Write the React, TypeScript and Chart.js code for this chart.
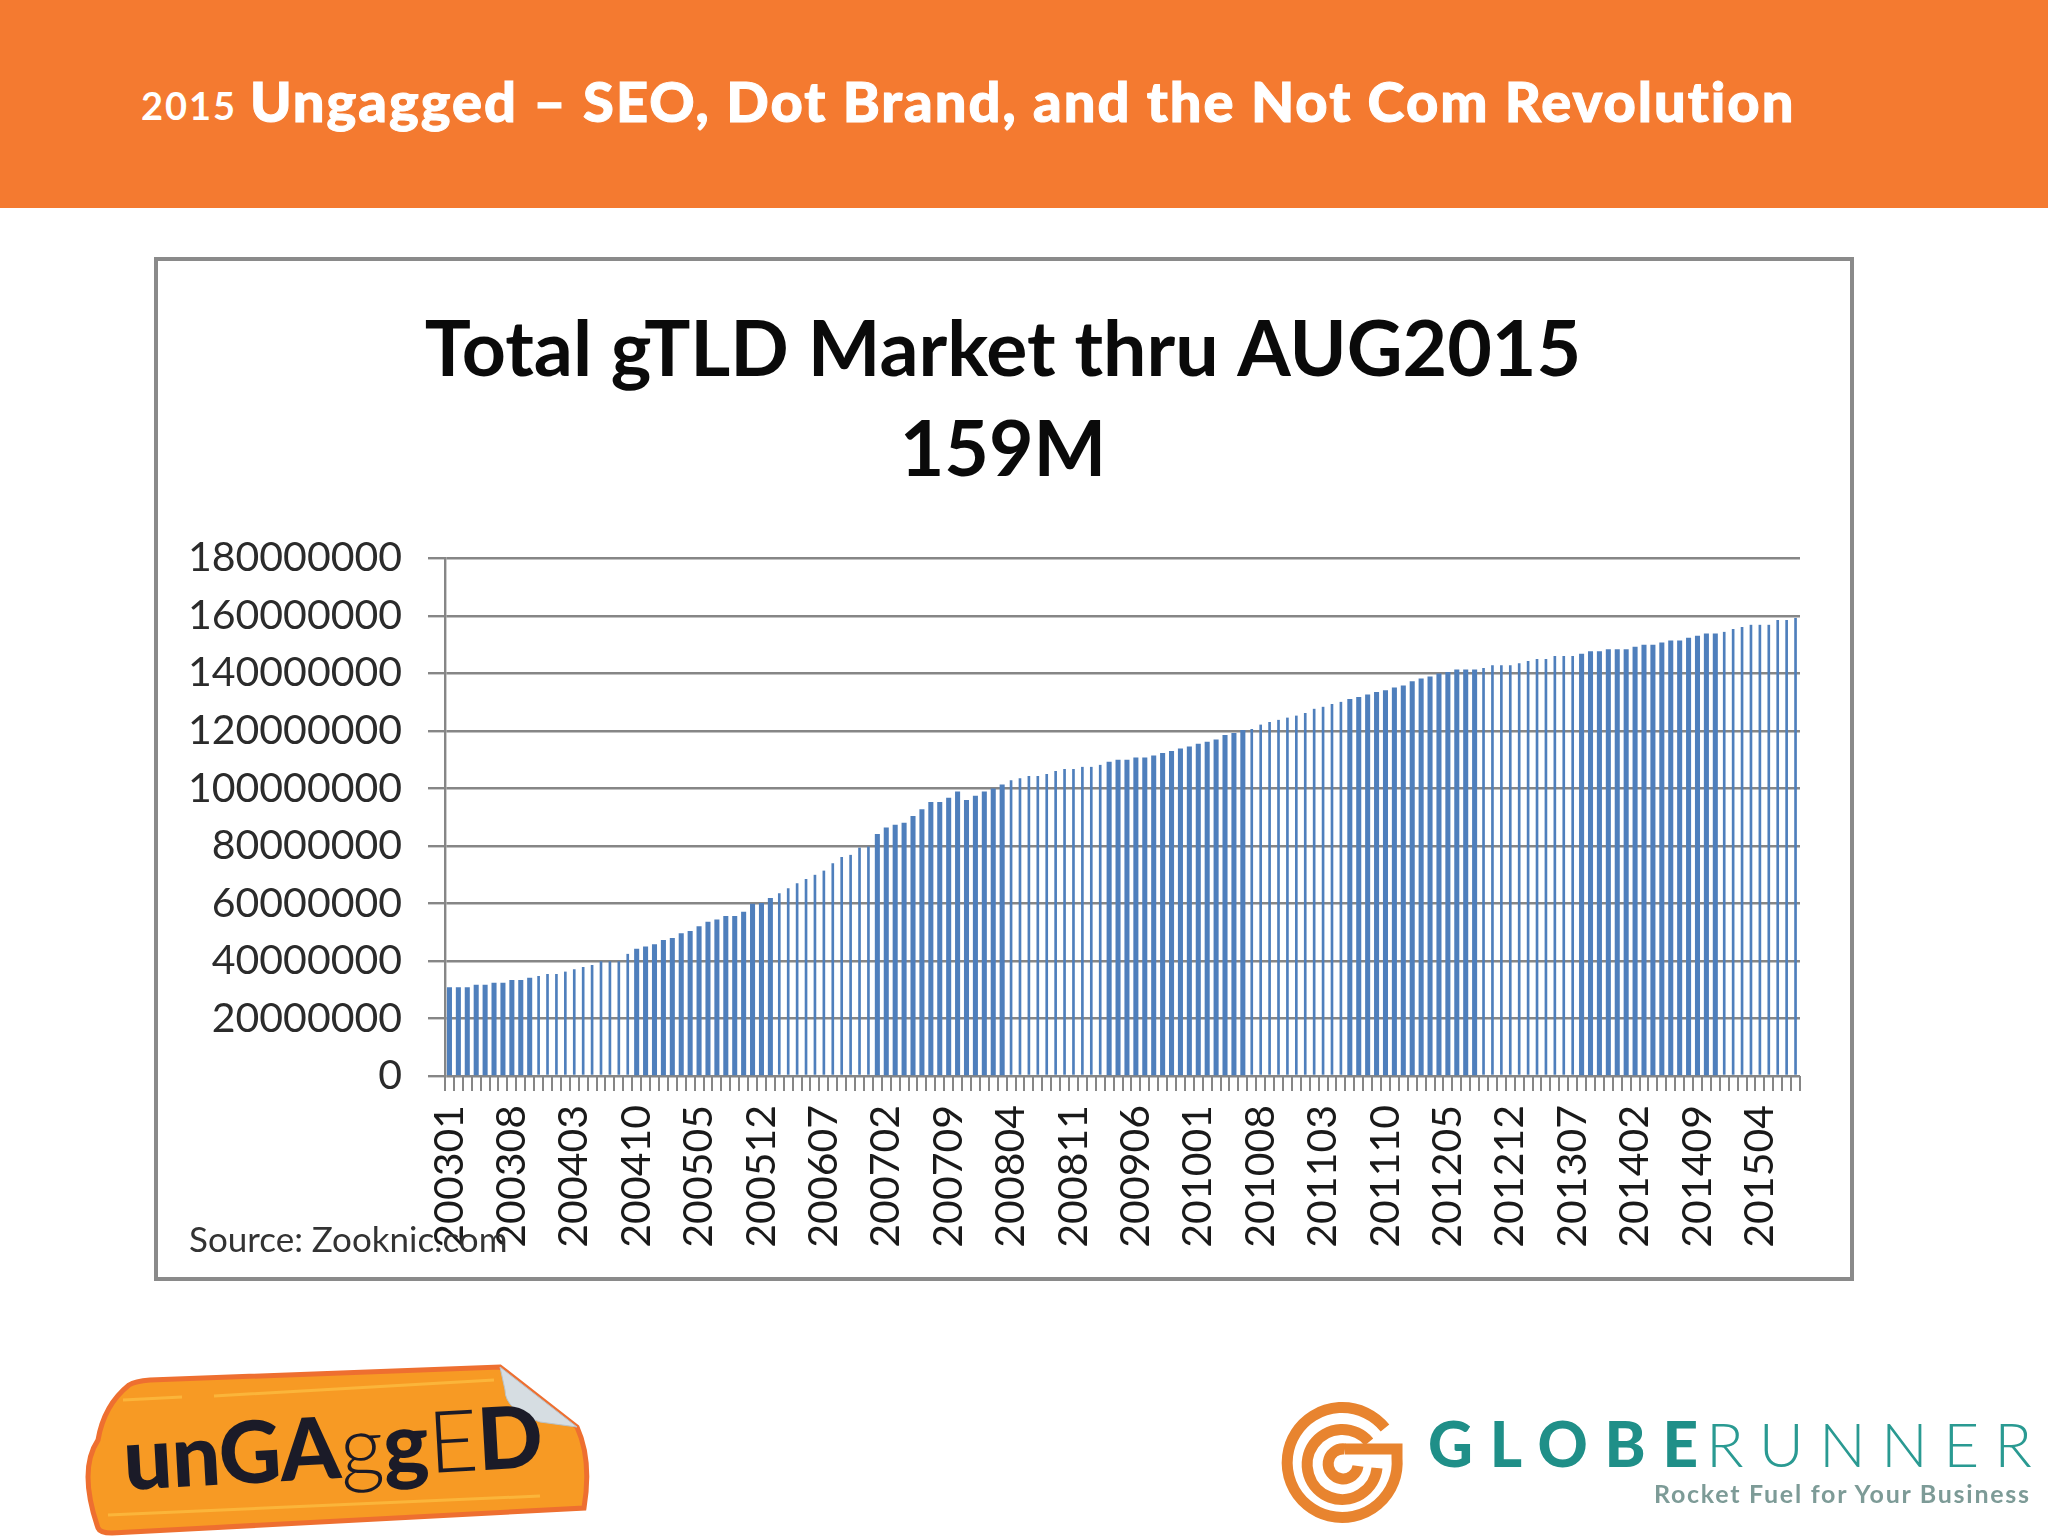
import { useEffect, useRef } from 'react';
import { Chart, registerables } from 'chart.js';

Chart.register(...registerables);

const categories = [
  '200301', '200302', '200303', '200304', '200305', '200306', '200307', '200308', '200309', '200310', '200311', '200312',
  '200401', '200402', '200403', '200404', '200405', '200406', '200407', '200408', '200409', '200410', '200411', '200412',
  '200501', '200502', '200503', '200504', '200505', '200506', '200507', '200508', '200509', '200510', '200511', '200512',
  '200601', '200602', '200603', '200604', '200605', '200606', '200607', '200608', '200609', '200610', '200611', '200612',
  '200701', '200702', '200703', '200704', '200705', '200706', '200707', '200708', '200709', '200710', '200711', '200712',
  '200801', '200802', '200803', '200804', '200805', '200806', '200807', '200808', '200809', '200810', '200811', '200812',
  '200901', '200902', '200903', '200904', '200905', '200906', '200907', '200908', '200909', '200910', '200911', '200912',
  '201001', '201002', '201003', '201004', '201005', '201006', '201007', '201008', '201009', '201010', '201011', '201012',
  '201101', '201102', '201103', '201104', '201105', '201106', '201107', '201108', '201109', '201110', '201111', '201112',
  '201201', '201202', '201203', '201204', '201205', '201206', '201207', '201208', '201209', '201210', '201211', '201212',
  '201301', '201302', '201303', '201304', '201305', '201306', '201307', '201308', '201309', '201310', '201311', '201312',
  '201401', '201402', '201403', '201404', '201405', '201406', '201407', '201408', '201409', '201410', '201411', '201412',
  '201501', '201502', '201503', '201504', '201505', '201506', '201507', '201508',
];

const tickLabels = [
  '200301', '200308', '200403', '200410', '200505', '200512', '200607', '200702', '200709', '200804', '200811',
  '200906', '201001', '201008', '201103', '201110', '201205', '201212', '201307', '201402', '201409', '201504',
];

// millions of domains
const totalMillions = [
  30.7, 30.7, 30.7, 31.6, 31.6, 32.3, 32.3, 33.3, 33.3, 34, 34.8, 35.5,
  35.5, 36.3, 37.1, 37.9, 38.6, 39.9, 39.9, 39.9, 42.5, 44.1, 44.9, 45.7,
  47.2, 47.9, 49.5, 50.3, 51.9, 53.5, 54.3, 55.5, 55.5, 57, 59.8, 60,
  61.8, 63.5, 65.3, 67, 68.5, 70, 71.4, 74, 76.1, 76.9, 79.4, 79.8,
  84, 86.3, 87.2, 87.9, 90.3, 92.6, 95.1, 95.1, 96.6, 98.8, 95.8, 97.3,
  98.8, 99.8, 101.2, 102.8, 103.5, 104.3, 104.3, 105, 106, 106.7, 106.7, 107.5,
  107.5, 108.2, 109.1, 109.8, 109.8, 110.6, 110.6, 111.3, 112.2, 112.9, 113.7, 114.4,
  115.4, 116.1, 116.9, 118.4, 119.1, 120.2, 120.6, 122.2, 123.1, 123.8, 124.6, 125.3,
  126.2, 127.7, 128.4, 129.3, 130.1, 130.9, 131.6, 132.5, 133.4, 134, 134.9, 135.6,
  137.1, 138.1, 138.8, 139.8, 140.3, 141.2, 141.2, 141.2, 141.8, 142.8, 142.8, 142.8,
  143.5, 144.3, 145, 145, 146, 146, 146, 146.7, 147.5, 147.5, 148.2, 148.2,
  148.2, 149.1, 149.8, 149.8, 150.6, 151.3, 151.3, 152.2, 152.9, 153.7, 153.7, 154.4,
  155.4, 156.1, 156.9, 156.9, 156.9, 158.5, 158.5, 159.2,
];

// the source picture was resampled, so some runs of bars came out thinner
const thinRuns = [[10, 20], [37, 47], [63, 73], [90, 100], [116, 126], [143, 151]];

const GRID = '#868686';
const FONT = 'Lato, sans-serif';

// y tick labels are clipped to the scale box, widen it after the title has been centred
const widenYScale = {
  id: 'widenYScale',
  afterLayout(chart: any) {
    chart.scales.y.left = 170;
  },
};

function TitleBar() {
  return (
    <div
      style={{
        position: 'absolute', left: 0, top: 0, width: 2048, height: 208, background: '#f47a30',
        color: '#fff', fontFamily: FONT, fontWeight: 900, whiteSpace: 'nowrap',
      }}
    >
      <span style={{ position: 'absolute', left: 141, top: 82, fontSize: 38, lineHeight: '46px', letterSpacing: 2, fontWeight: 700 }}>2015</span>
      <span style={{ position: 'absolute', left: 250, top: 67, fontSize: 56, lineHeight: '68px', letterSpacing: 2, WebkitTextStroke: '1px #fff' }}>
        Ungagged – SEO, Dot Brand, and the Not Com Revolution
      </span>
    </div>
  );
}

function UngaggedLogo() {
  return (
    <svg width={2048} height={1536} style={{ position: 'absolute', left: 0, top: 0 }}>
      <path
        d="M129 1385 Q135 1381 150 1380 L500 1367 L577 1427 Q592 1460 584 1508 L112 1533 Q100 1533 98 1528 Q78 1470 98 1440 Q104 1405 129 1385 Z"
        fill="#f79a24" stroke="#ee6f30" strokeWidth={5}
      />
      <path d="M123 1400 L182 1397 M214 1396 L494 1380" stroke="#fbb53a" strokeWidth={3} fill="none" />
      <path d="M108 1515 L540 1496" stroke="#fbb53a" strokeWidth={3} fill="none" />
      <path d="M500 1367 L577 1427 L540 1422 Q505 1410 505 1390 Z" fill="#d6dde2" stroke="#b9c2c8" strokeWidth={1} />
      <text
        x={125} y={1490} transform="rotate(-3.2 125 1490)"
        fontFamily={FONT} fontSize={86} fill="#1b1b28" textLength={420}
      >
        <tspan fontWeight={900}>unGA</tspan>
        <tspan fontWeight={300}>g</tspan>
        <tspan fontWeight={900}>g</tspan>
        <tspan fontWeight={300}>E</tspan>
        <tspan fontWeight={900}>D</tspan>
      </text>
    </svg>
  );
}

function GlobeRunnerLogo() {
  return (
    <svg width={2048} height={1536} style={{ position: 'absolute', left: 0, top: 0 }}>
      <g fill="none" stroke="#e8842f" strokeWidth={11}>
        <path d="M1385 1428 A55 55 0 1 0 1397 1458 L1397 1449 L1345 1449" />
        <path d="M1369 1442 A35 35 0 1 0 1377 1468" />
        <path d="M1345 1449 A15 15 0 1 0 1358 1466" />
      </g>
      <text x={1428} y={1467} fontFamily={FONT} fontSize={62} fontWeight={900} fill="#1f8f88" textLength={270}>GLOBE</text>
      <text x={1706} y={1467} fontFamily={FONT} fontSize={62} fontWeight={300} fill="#2a9a92" textLength={326}>RUNNER</text>
      <text x={1654} y={1503} fontFamily={FONT} fontSize={25} fontWeight={700} fill="#7d9b97" textLength={375}>Rocket Fuel for Your Business</text>
    </svg>
  );
}

export default function App() {
  const chartRef = useRef<HTMLCanvasElement | null>(null);

  useEffect(() => {
    if (!chartRef.current) return;

    const chartInstance = new Chart(chartRef.current, {
      type: 'bar',
      plugins: [widenYScale],
      data: {
        labels: categories,
        datasets: [
          {
            data: totalMillions.map((v) => v * 1000000),
            backgroundColor: '#4f7fbc',
            borderColor: 'rgba(0,0,0,0)',
            barThickness: 4.4,
            // transparent side borders narrow the thin runs
            borderWidth: (ctx: any) => {
              const thin = thinRuns.some(([a, b]) => ctx.dataIndex >= a && ctx.dataIndex <= b);
              return thin ? { left: 1.2, right: 1.2, top: 0, bottom: 0 } : 0;
            },
          },
        ],
      },
      options: {
        responsive: false,
        animation: false,
        devicePixelRatio: 1,
        layout: { padding: { left: 206, right: 248, top: 301, bottom: 289 } },
        plugins: {
          legend: { display: false },
          tooltip: { enabled: false },
          title: {
            display: true,
            text: ['Total gTLD Market thru AUG2015', '159M'],
            color: '#0a0a0a',
            font: { family: FONT, size: 77, weight: 'bold', lineHeight: 1.3 },
            padding: { top: 0, bottom: 57 },
          },
        },
        scales: {
          x: {
            grid: { color: GRID, lineWidth: 2, drawOnChartArea: false, tickLength: 15, offset: true },
            border: { display: false },
            afterFit: (scale: any) => { scale.height = 171; },
            ticks: {
              autoSkip: false,
              minRotation: 90,
              maxRotation: 90,
              padding: 14,
              color: '#1a1a1a',
              font: { family: FONT, size: 41 },
              callback: (_: any, i: number) => (tickLabels.includes(categories[i]) ? categories[i] : ''),
            },
          },
          y: {
            min: 0,
            max: 180000000,
            grid: { color: GRID, lineWidth: 2.4, tickLength: 17 },
            border: { color: GRID, width: 2.4 },
            afterFit: (scale: any) => { scale.width = 239; },
            ticks: {
              stepSize: 20000000,
              padding: 26,
              color: '#2b2b2b',
              font: { family: FONT, size: 41 },
              callback: (v: any) => String(v),
            },
          },
        },
      },
    });

    return () => {
      chartInstance.destroy();
    };
  }, []);

  return (
    <div style={{ position: 'absolute', left: 0, top: 0, width: 2048, height: 1536, background: '#fff', overflow: 'hidden' }}>
      <TitleBar />
      <div style={{ position: 'absolute', left: 154, top: 257, width: 1692, height: 1016, border: '4px solid #8a8a8a' }} />
      <canvas ref={chartRef} width={2048} height={1536} style={{ position: 'absolute', left: 0, top: 0 }} />
      <div style={{ position: 'absolute', left: 189, top: 1218, fontFamily: FONT, fontSize: 35, lineHeight: '40px', color: '#333', whiteSpace: 'nowrap' }}>
        Source: Zooknic.com
      </div>
      <UngaggedLogo />
      <GlobeRunnerLogo />
    </div>
  );
}
